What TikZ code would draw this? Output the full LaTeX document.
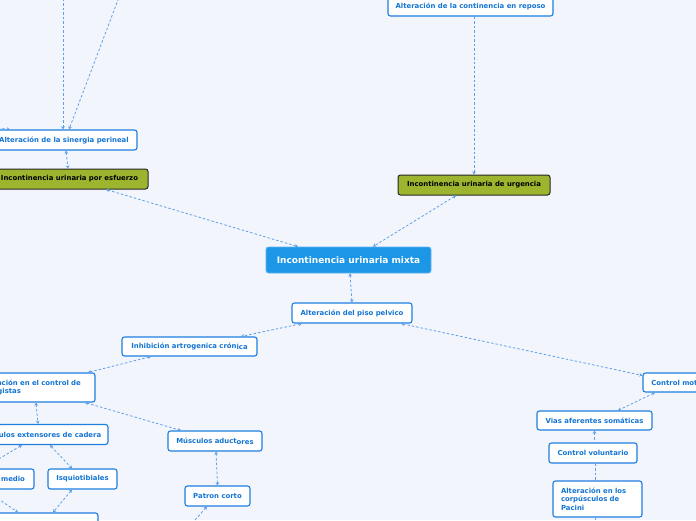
\documentclass[tikz,border=0pt]{standalone}
\usepackage{fontspec}
\setmainfont{DejaVu Sans}
\usetikzlibrary{arrows.meta,calc}
\definecolor{bg}{HTML}{F3F5FD}
\definecolor{boxc}{HTML}{1E7FE0}
\definecolor{txtc}{HTML}{1474D4}
\definecolor{connc}{HTML}{5C9FEA}
\definecolor{olive}{HTML}{9DB52E}
\definecolor{mainc}{HTML}{1C96E6}
\tikzset{
  topic/.style={draw=boxc, line width=1.1pt, fill=white, rounded corners=2.5pt, text=txtc,
    font=\bfseries\fontsize{6.9}{8.7}\selectfont, inner sep=0pt, minimum height=20pt},
  multi/.style={topic, align=left, inner xsep=8pt, inner ysep=2pt},
  olivebox/.style={draw=black!85, line width=1pt, fill=olive, rounded corners=2.5pt, text=black,
    font=\bfseries\fontsize{6.9}{8.7}\selectfont, inner sep=0pt, minimum height=20pt},
  mainbox/.style={draw=mainc!70!white, line width=0.8pt, fill=mainc, rounded corners=2.5pt, text=white,
    font=\bfseries\fontsize{9}{11}\selectfont, inner sep=0pt, minimum height=26pt},
  conn/.style={draw=connc, line width=0.8pt, dash pattern=on 2.5pt off 2pt},
  both/.style={conn, {Stealth[length=3.2pt,width=3.6pt]}-{Stealth[length=3.2pt,width=3.6pt]}},
  endarr/.style={conn, -{Stealth[length=3.2pt,width=3.6pt]}},
  startarr/.style={conn, {Stealth[length=3.2pt,width=3.6pt]}-},
}
\begin{document}
\begin{tikzpicture}[x=1pt,y=-1pt]
\useasboundingbox (0,0) rectangle (696,520);
\fill[bg] (0,0) rectangle (696,520);
\clip (0,0) rectangle (696,520);

% nodes
\node[topic, minimum width=165pt] (reposo) at (470.5,6) {Alteración de la continencia en reposo};
\node[olivebox, minimum width=152pt] (urgencia) at (474,185) {Incontinencia urinaria de urgencia};
\node[topic, minimum width=146pt] (sinergia) at (64,140) {Alteración de la sinergia perineal};
\node[olivebox, minimum width=157pt] (esfuerzo) at (69.5,179) {Incontinencia urinaria por esfuerzo};
\node[mainbox, minimum width=165pt] (mixta) at (348.5,260) {Incontinencia urinaria mixta};
\node[topic, minimum width=120pt] (piso) at (352,313) {Alteración del piso pelvico};
\node[topic, minimum width=135pt, minimum height=19pt] (inhib) at (189.5,346.5) {Inhibición artrogenica crón\raisebox{-0.9pt}{ica}};
\node[multi, text width=109pt, minimum height=29pt] (sinerg) at (32.5,387.5) {Alteración en el control de\\sinergistas};
\node[topic, minimum width=136pt] (exten) at (40,434.5) {Músculos extensores de cadera};
\node[topic, minimum width=70pt] (gluteo) at (-1,479) {Glúteo medio};
\node[topic, minimum width=69pt] (isquio) at (82.5,479) {Isquiotibiales};
\node[topic, minimum width=136pt, minimum height=24pt] (bottom) at (30,525) {};
\node[topic, minimum width=94pt] (aduct) at (215,441) {Músculos aduct\raisebox{-0.9pt}{ores}};
\node[topic, minimum width=65pt] (patron) at (217.5,496) {Patron corto};
\node[topic, minimum width=71pt, minimum height=19pt] (motor) at (678.5,382.5) {Control motor};
\node[topic, minimum width=115pt, minimum height=19pt] (vias) at (594.5,420.5) {Vias aferentes somáticas};
\node[topic, minimum width=88pt] (volunt) at (593,453) {Control voluntario};
\node[multi, text width=73pt, minimum height=36pt] (pacini) at (597.5,499) {Alteración en los\\corpúsculos de\\Pacini};

% free ends
\coordinate (top1) at (63,-12);
\coordinate (top2) at (122.5,-12);
\coordinate (left1) at (-40,124);
\coordinate (below1) at (186,530);
\coordinate (below2) at (595,530);

% connectors
\draw[endarr] ([xshift=3.5pt]reposo.south) -- (urgencia.north);
\draw[both] ([xshift=-18pt]urgencia.south) -- ([xshift=24.5pt]mixta.north);
\draw[both] ([xshift=36.5pt]esfuerzo.south) -- ([xshift=-50.5pt]mixta.north);
\draw[both] ([xshift=2pt]sinergia.south) -- ([xshift=-1.5pt]esfuerzo.north);
\draw[both] (top1) -- ([xshift=-1pt]sinergia.north);
\draw[both] (top2) -- ([xshift=5pt]sinergia.north);
\draw[both] (left1) -- ([xshift=-54pt]sinergia.north);
\draw[both] ([xshift=1.5pt]mixta.south) -- (piso.north);
\draw[both] ([xshift=-50pt]piso.south) -- ([xshift=51.5pt]inhib.north);
\draw[both] ([xshift=49pt]piso.south) -- ([yshift=-3pt]motor.north west);
\draw[both] ([xshift=-38.5pt]inhib.south) -- ([xshift=55.5pt]sinerg.north);
\draw[both] ([xshift=3.5pt]sinerg.south) -- ([xshift=-2pt]exten.north);
\draw[both] ([xshift=52.5pt]sinerg.south) -- ([xshift=-34pt]aduct.north);
\draw[both] ([xshift=-18pt]exten.south) -- ([xshift=-16pt]gluteo.north);
\draw[both] ([xshift=10pt]exten.south) -- ([xshift=-10.5pt]isquio.north);
\draw[both] ([xshift=-10.5pt]isquio.south) -- ([xshift=23pt]bottom.north);
\draw[both] ([xshift=-14pt]gluteo.south) -- ([xshift=-12pt]bottom.north);
\draw[both] ([xshift=1pt]aduct.south) -- (patron.north);
\draw[both] ([xshift=-10.5pt]patron.south) -- (below1);
\draw[both] ([xshift=-23.5pt]motor.south) -- ([xshift=23.5pt]vias.north);
\draw[startarr] (vias.south) -- ([xshift=1.5pt]volunt.north);
\draw[conn] ([xshift=2pt]volunt.south) -- ([xshift=-2.5pt]pacini.north);
\draw[conn] ([xshift=-2.5pt]pacini.south) -- (below2);
\end{tikzpicture}
\end{document}
